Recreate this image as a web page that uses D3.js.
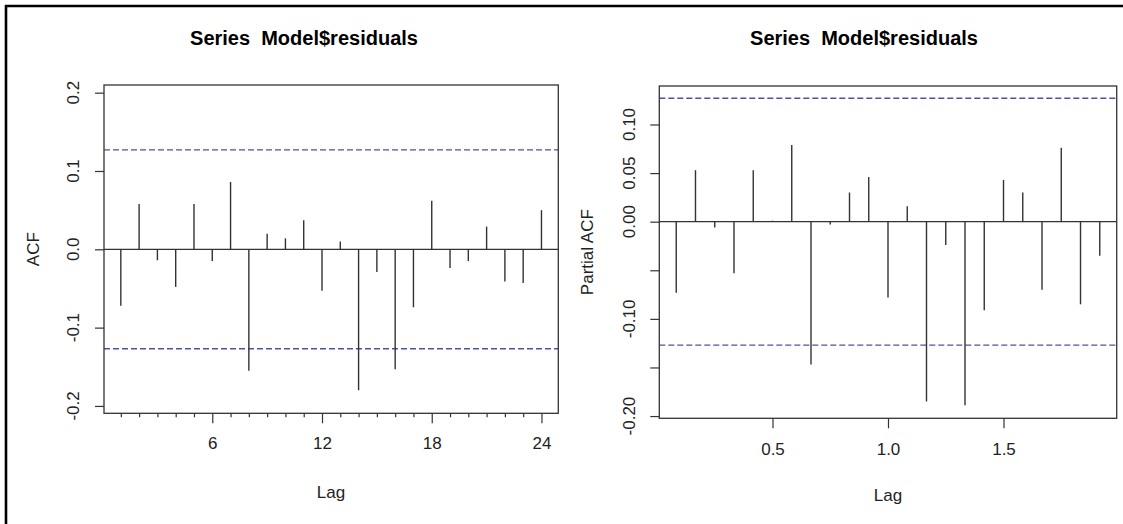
<!DOCTYPE html>
<html>
<head>
<meta charset="utf-8">
<script src="https://cdn.jsdelivr.net/npm/d3@7"></script>
<style>
  body { margin: 0; background: #fff; }
  svg { display: block; font-family: "Liberation Sans", Arial, sans-serif; }
</style>
</head>
<body>
<div id="chart"></div>
<script>
// ACF of residuals, lags 1..24
let acfLags = d3.range(1, 25);
let acfValues = [-0.072, 0.058, -0.014, -0.048, 0.058, -0.015, 0.086, -0.155,
                 0.020, 0.014, 0.037, -0.053, 0.010, -0.180, -0.029, -0.153,
                 -0.074, 0.062, -0.024, -0.015, 0.029, -0.041, -0.043, 0.050];
let acfYTicks = [-0.2, -0.1, 0.0, 0.1, 0.2];
let acfXMajor = [6, 12, 18, 24];

// PACF, lags in years (1/12 .. 23/12)
let pacfLags = d3.range(1, 24).map(k => k / 12);
let pacfValues = [-0.073, 0.053, -0.006, -0.053, 0.053, 0.001, 0.079, -0.147,
                  -0.003, 0.030, 0.046, -0.078, 0.016, -0.185, -0.024, -0.189,
                  -0.091, 0.043, 0.030, -0.070, 0.076, -0.085, -0.035];
let pacfYTicks = [-0.20, -0.15, -0.10, -0.05, 0.00, 0.05, 0.10];
let pacfYLabels = {"-0.2": "-0.20", "-0.1": "-0.10", "0": "0.00", "0.05": "0.05", "0.1": "0.10"};
let pacfXTicks = [0.5, 1.0, 1.5];

let ciBound = 0.127;
let titleText = "Series  Model$residuals";

let svg = d3.select("#chart").append("svg")
    .attr("width", 1123)
    .attr("height", 524);

// frame lines on the left and top
svg.append("line").attr("x1", 6).attr("x2", 6).attr("y1", 5).attr("y2", 524)
    .attr("stroke", "#000").attr("stroke-width", 2.6);
svg.append("line").attr("x1", 5).attr("x2", 1123).attr("y1", 6).attr("y2", 6)
    .attr("stroke", "#000").attr("stroke-width", 2.6);

function drawPanel(cfg) {
    let x = d3.scaleLinear().domain(cfg.xDomain).range([cfg.left, cfg.right]);
    let y = d3.scaleLinear().domain(cfg.yDomain).range([cfg.bottom, cfg.top]);
    let g = svg.append("g");

    // title
    g.append("text")
        .attr("x", cfg.titleX).attr("y", 45)
        .attr("text-anchor", "middle")
        .style("font-weight", "bold").style("font-size", "20px")
        .style("white-space", "pre")
        .text(titleText);

    // zero line
    g.append("line")
        .attr("x1", cfg.left).attr("x2", cfg.right)
        .attr("y1", y(0)).attr("y2", y(0))
        .attr("stroke", "#333").attr("stroke-width", 1.2);

    // confidence bounds
    [ciBound, -ciBound].forEach(v => {
        g.append("line")
            .attr("x1", cfg.left).attr("x2", cfg.right)
            .attr("y1", y(v)).attr("y2", y(v))
            .attr("stroke", "#5050aa").attr("stroke-width", 1.3)
            .attr("stroke-dasharray", "6,3");
    });

    // spikes
    g.selectAll(".spike").data(cfg.lags)
        .enter().append("line")
        .attr("class", "spike")
        .attr("x1", d => x(d)).attr("x2", d => x(d))
        .attr("y1", y(0))
        .attr("y2", (d, i) => y(cfg.values[i]))
        .attr("stroke", "#333").attr("stroke-width", 1.4);

    // box
    g.append("rect")
        .attr("x", cfg.left).attr("y", cfg.top)
        .attr("width", cfg.right - cfg.left).attr("height", cfg.bottom - cfg.top)
        .attr("fill", "none").attr("stroke", "#333").attr("stroke-width", 1.3);

    // y axis
    let yAxis = d3.axisLeft(y).tickValues(cfg.yTicks).tickSize(9).tickFormat("");
    let yg = g.append("g").attr("transform", `translate(${cfg.left},0)`).call(yAxis);
    yg.select(".domain").remove();
    yg.selectAll(".tick line").attr("stroke", "#333").attr("stroke-width", 1.2);
    cfg.yTicks.forEach(v => {
        let lab = cfg.yLabel(v);
        if (lab === null) return;
        g.append("text")
            .attr("transform", `translate(${cfg.left - cfg.yLabOff},${y(v)}) rotate(-90)`)
            .attr("text-anchor", "middle")
            .style("font-size", "17px").attr("fill", "#222")
            .text(lab);
    });

    // x axis
    if (cfg.xMinor) {
        let minor = d3.axisBottom(x).tickValues(cfg.xMinor).tickSize(4).tickFormat("");
        let mg = g.append("g").attr("transform", `translate(0,${cfg.bottom})`).call(minor);
        mg.select(".domain").remove();
        mg.selectAll(".tick line").attr("stroke", "#333").attr("stroke-width", 1.2);
    }
    let xAxis = d3.axisBottom(x).tickValues(cfg.xTicks).tickSize(10).tickPadding(cfg.xPad)
        .tickFormat(cfg.xFormat);
    let xg = g.append("g").attr("transform", `translate(0,${cfg.bottom})`).call(xAxis);
    xg.select(".domain").remove();
    xg.selectAll(".tick line").attr("stroke", "#333").attr("stroke-width", 1.2);
    xg.selectAll(".tick text")
        .style("font-size", "17px").style("font-family", "'Liberation Sans', Arial, sans-serif")
        .attr("fill", "#222");

    // axis titles
    g.append("text")
        .attr("x", cfg.lagX).attr("y", cfg.lagY)
        .attr("text-anchor", "middle").style("font-size", "17px").attr("fill", "#222")
        .text("Lag");
    g.append("text")
        .attr("transform", `translate(${cfg.yTitleX},${(cfg.top + cfg.bottom) / 2}) rotate(-90)`)
        .attr("text-anchor", "middle").style("font-size", "17px").attr("fill", "#222")
        .text(cfg.yTitle);
}

drawPanel({
    left: 104, right: 558.3, top: 85, bottom: 413.3,
    xDomain: [0.08, 24.92], yDomain: [-0.2094, 0.2098],
    lags: acfLags, values: acfValues,
    yTicks: acfYTicks, yLabel: v => d3.format(".1f")(v).replace("−", "-"), yLabOff: 25,
    xTicks: acfXMajor, xMinor: acfLags.filter(l => l % 6 !== 0),
    xFormat: d3.format("d"), xPad: 14,
    titleX: 304, lagX: 331, lagY: 498, yTitle: "ACF", yTitleX: 39
});

drawPanel({
    left: 659.3, right: 1116.7, top: 86, bottom: 418.3,
    xDomain: [0.01, 1.99], yDomain: [-0.2023, 0.1396],
    lags: pacfLags, values: pacfValues,
    yTicks: pacfYTicks, yLabOff: 24,
    yLabel: v => { let k = String(+v.toFixed(2)); return k in pacfYLabels ? pacfYLabels[k] : null; },
    xTicks: pacfXTicks, xMinor: null,
    xFormat: d3.format(".1f"), xPad: 15,
    titleX: 864, lagX: 888, lagY: 501, yTitle: "Partial ACF", yTitleX: 593
});
</script>
</body>
</html>
